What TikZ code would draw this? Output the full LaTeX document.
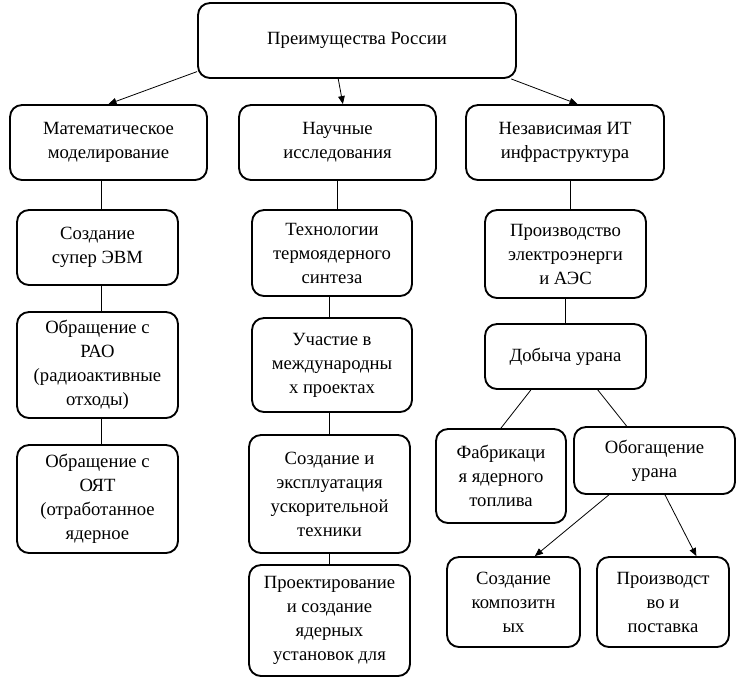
\documentclass[tikz,border=0pt]{standalone}
\usepackage{fontspec}
\setmainfont{Liberation Serif}
\usetikzlibrary{arrows.meta}
\begin{document}
\begin{tikzpicture}[x=0.75pt,y=-0.75pt,
	blok/.style={draw,line width=1.4pt,rounded corners=9pt,align=center,inner sep=2pt,
		font=\fontsize{14pt}{18pt}\selectfont},
	razmer/.style 2 args={minimum width=#1*0.75pt,minimum height=#2*0.75pt},
	svyaz/.style={line width=0.6pt},
	strelka/.style={line width=0.6pt,-{Triangle[length=6pt,width=5pt]}}]
	\useasboundingbox (0,0) rectangle (744,683);

	% корень
	\node [blok,razmer={318}{75}] (root) at ( 357.0, 40.5 ) {Преимущества России};

	% первый уровень
	\node [blok,razmer={197}{75}] (math) at ( 108.5, 142.5 ) {Математическое\\моделирование};
	\node [blok,razmer={197}{75}] (sci)  at ( 337.5, 142.5 ) {Научные\\исследования};
	\node [blok,razmer={198}{75}] (it)   at ( 565.0, 142.5 ) {Независимая ИТ\\инфраструктура};
	\draw [strelka] (root.191) -- (math.north);
	\draw [strelka] (root.-116) -- (sci.82);
	\draw [strelka] (root.-14) -- (it.72);

	% математическое моделирование
	\node [blok,razmer={161}{75}]  (evm)  at ( 97.5, 247.5 ) {Создание\\супер ЭВМ};
	\node [blok,razmer={161}{106}] (rao)  at ( 97.5, 365.0 ) {Обращение с\\РАО\\(радиоактивные\\отходы)};
	\node [blok,razmer={161}{108}] (oyat) at ( 97.5, 499.0 ) {Обращение с\\ОЯТ\\(отработанное\\ядерное};
	\draw [svyaz] (evm.84) -- (evm.84 |- math.south);
	\draw [svyaz] (rao.north -| evm.84) -- (evm.84 |- evm.south);
	\draw [svyaz] (oyat.north -| evm.84) -- (evm.84 |- rao.south);

	% научные исследования
	\node [blok,razmer={160}{86}]  (termo)  at ( 332.0, 253.0 ) {Технологии\\термоядерного\\синтеза};
	\node [blok,razmer={160}{94}]  (mezhd)  at ( 332.0, 365.0 ) {Участие в\\международны\\х проектах};
	\node [blok,razmer={161}{118}] (uskor)  at ( 329.5, 494.0 ) {Создание и\\эксплуатация\\ускорительной\\техники};
	\node [blok,razmer={161}{111}] (proekt) at ( 329.5, 620.5 ) {Проектирование\\и создание\\ядерных\\установок для};
	\draw [svyaz] (termo.83) -- (termo.83 |- sci.south);
	\draw [svyaz] (mezhd.north -| uskor.north) -- (uskor.north |- termo.south);
	\draw [svyaz] (uskor.north) -- (uskor.north |- mezhd.south);
	\draw [svyaz] (proekt.north -| uskor.north) -- (uskor.south);

	% независимая ИТ инфраструктура
	\node [blok,razmer={161}{88}] (aes)    at ( 565.5, 254.0 ) {Производство\\электроэнерги\\и АЭС};
	\node [blok,razmer={161}{65}] (uran)   at ( 565.5, 356.5 ) {Добыча урана};
	\node [blok,razmer={130}{94}] (fab)    at ( 501.0, 476.0 ) {Фабрикаци\\я ядерного\\топлива};
	\node [blok,razmer={161}{67}] (obog)   at ( 654.5, 460.5 ) {Обогащение\\урана};
	\node [blok,razmer={133}{90}] (kompoz) at ( 513.5, 602.0 ) {Создание\\композитн\\ых};
	\node [blok,razmer={132}{90}] (postav) at ( 663.0, 602.0 ) {Производст\\во и\\поставка};
	\draw [svyaz] (aes.84) -- (aes.84 |- it.south);
	\draw [svyaz] (uran.north) -- (aes.south);
	\draw [svyaz] (uran.224) -- (fab.north);
	\draw [svyaz] (uran.-46) -- (obog.129);
	\draw [strelka] (obog.217) -- (kompoz.65);
	\draw [strelka] (obog.-73) -- (postav.54);
\end{tikzpicture}
\end{document}
